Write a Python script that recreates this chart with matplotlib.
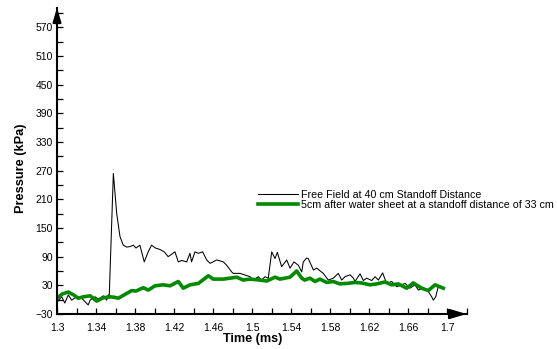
import matplotlib
matplotlib.use("Agg")
import matplotlib.pyplot as plt
from matplotlib.ticker import MultipleLocator, FixedLocator

plt.rcParams['font.family'] = ['Liberation Sans', 'DejaVu Sans']

# Free field at 40 cm standoff
free_t = [1.300, 1.3048, 1.308, 1.3116, 1.315, 1.320, 1.3253, 1.3305, 1.332, 1.334,
          1.339, 1.3424, 1.3475, 1.351, 1.3526, 1.3535, 1.3578, 1.3612, 1.3646, 1.368,
          1.3715, 1.3749, 1.3783, 1.381, 1.385, 1.3895, 1.3935, 1.397, 1.401, 1.4056,
          1.410, 1.414, 1.4175, 1.421, 1.4244, 1.428, 1.433, 1.4364, 1.438, 1.4415,
          1.445, 1.4494, 1.4535, 1.457, 1.4638, 1.4706, 1.474, 1.4792, 1.4808, 1.4877,
          1.498, 1.5013, 1.5065, 1.510, 1.5133, 1.5167, 1.5202, 1.5236, 1.526, 1.5304,
          1.5356, 1.539, 1.5431, 1.5475, 1.551, 1.5526, 1.556, 1.5577, 1.563, 1.5663,
          1.5731, 1.5783, 1.5834, 1.5885, 1.592, 1.5954, 1.6005, 1.604, 1.6056, 1.6108,
          1.6142, 1.6176, 1.6228, 1.6262, 1.6296, 1.634, 1.638, 1.6433, 1.6484, 1.6535,
          1.657, 1.662, 1.6672, 1.6706, 1.6757, 1.6808, 1.6843, 1.686, 1.6884, 1.691]
free_p = [-5, 6, -7, 10, -1, 6, 3, -8, -11, -1,
          6, 1, 8, -1, 10, 3, 264, 181, 132, 114,
          110, 111, 114, 108, 114, 79, 100, 114, 108, 105,
          100, 90, 95, 100, 79, 82, 79, 97, 79, 100,
          97, 100, 83, 76, 83, 79, 72, 58, 55, 55,
          48, 41, 48, 41, 48, 45, 100, 86, 99, 69,
          83, 66, 79, 72, 58, 79, 87, 86, 62, 66,
          55, 41, 45, 55, 41, 48, 52, 45, 38, 54,
          40, 45, 40, 48, 41, 56, 34, 38, 27, 31,
          34, 24, 31, 20, 24, 17, 6, -1, 6, 27]

# 5 cm after water sheet, standoff 33 cm
sheet_t = [1.300, 1.3055, 1.3116, 1.317, 1.3218, 1.327, 1.334, 1.3407, 1.3475, 1.3544,
           1.3585, 1.3629, 1.3697, 1.3766, 1.381, 1.3885, 1.3936, 1.4005, 1.409, 1.416,
           1.4244, 1.4295, 1.4364, 1.445, 1.4552, 1.4603, 1.4706, 1.4843, 1.491, 1.498,
           1.5082, 1.515, 1.5236, 1.5287, 1.539, 1.5458, 1.551, 1.554, 1.5595, 1.5646,
           1.5697, 1.5766, 1.5834, 1.590, 1.597, 1.6056, 1.6125, 1.621, 1.628, 1.6364,
           1.6433, 1.650, 1.6587, 1.6654, 1.674, 1.6808, 1.6877, 1.6962]
sheet_p = [3, 12, 16, 10, 3, 6, 8, -3, 4, 6,
           5, 3, 11, 19, 18, 25, 20, 29, 31, 29,
           38, 24, 31, 34, 50, 43, 43, 47, 41, 43,
           41, 39, 47, 43, 47, 60, 45, 41, 45, 38,
           43, 36, 38, 33, 34, 36, 35, 31, 33, 37,
           31, 33, 24, 35, 24, 19, 31, 24]

labels = ["Free Field at 40 cm Standoff Distance",
          "5cm after water sheet at a standoff distance of 33 cm"]
x_ticks = [1.3, 1.34, 1.38, 1.42, 1.46, 1.5, 1.54, 1.58, 1.62, 1.66, 1.7]
x_tick_labels = ["1.3", "1.34", "1.38", "1.42", "1.46", "1.5", "1.54", "1.58", "1.62", "1.66", "1.7"]
y_ticks = [-30, 30, 90, 150, 210, 270, 330, 390, 450, 510, 570]

W, H = 557, 349
fig = plt.figure(figsize=(W / 100, H / 100), dpi=100)
x0, x1, y0, y1 = 57, 466.5, 314, 7.6
ax = fig.add_axes([x0 / W, 1 - y0 / H, (x1 - x0) / W, (y0 - y1) / H])

ax.plot(free_t, free_p, color='black', lw=0.75, label=labels[0])
ax.plot(sheet_t, sheet_p, color='#008a00', lw=2.6, label=labels[1])

ax.set_xlim(1.3, 1.72)
ax.set_ylim(-30, 611)

for s in ['top', 'right']:
    ax.spines[s].set_visible(False)
for s in ['left', 'bottom']:
    ax.spines[s].set_linewidth(1.5)

ax.xaxis.set_major_locator(FixedLocator(x_ticks))
ax.set_xticklabels(x_tick_labels)
ax.xaxis.set_minor_locator(MultipleLocator(0.02))
ax.yaxis.set_major_locator(FixedLocator(y_ticks))
ax.yaxis.set_minor_locator(MultipleLocator(30))
ax.tick_params(which='both', direction='in', length=4.3, width=0.9, labelsize=7.5)
ax.tick_params(axis='x', which='major', pad=6.5)
ax.tick_params(axis='y', which='major', pad=3)

ax.set_xlabel("Time (ms)", fontsize=9.1, fontweight='bold')
ax.set_ylabel("Pressure (kPa)", fontsize=9.2, fontweight='bold')
ax.xaxis.set_label_coords((253 - x0) / (x1 - x0), -(339 - y0) / (y0 - y1), transform=ax.transAxes)
ax.xaxis.label.set_va('center')
ax.yaxis.set_label_coords(-(x0 - 20.7) / (x1 - x0), (y0 - 168) / (y0 - y1), transform=ax.transAxes)
ax.yaxis.label.set_va('center')

# arrow heads at axis ends
ax.annotate('', xy=(1.0, 0), xytext=(0.96, 0), xycoords='axes fraction',
            arrowprops=dict(arrowstyle='-|>,head_length=1.0,head_width=0.3', color='black',
                            lw=1.5, shrinkA=0, shrinkB=0), annotation_clip=False)
ax.annotate('', xy=(0, 1.0), xytext=(0, 0.96), xycoords='axes fraction',
            arrowprops=dict(arrowstyle='-|>,head_length=0.85,head_width=0.25', color='black',
                            lw=1.5, shrinkA=0, shrinkB=0), annotation_clip=False)

leg = ax.legend(loc='upper left', bbox_to_anchor=(258 / W, 1 - 190 / H),
                bbox_transform=fig.transFigure, frameon=False, fontsize=7.7,
                handlelength=3.7, handletextpad=0.3, labelspacing=0.0,
                borderpad=0, borderaxespad=0)

fig.savefig("out.png", dpi=100)
